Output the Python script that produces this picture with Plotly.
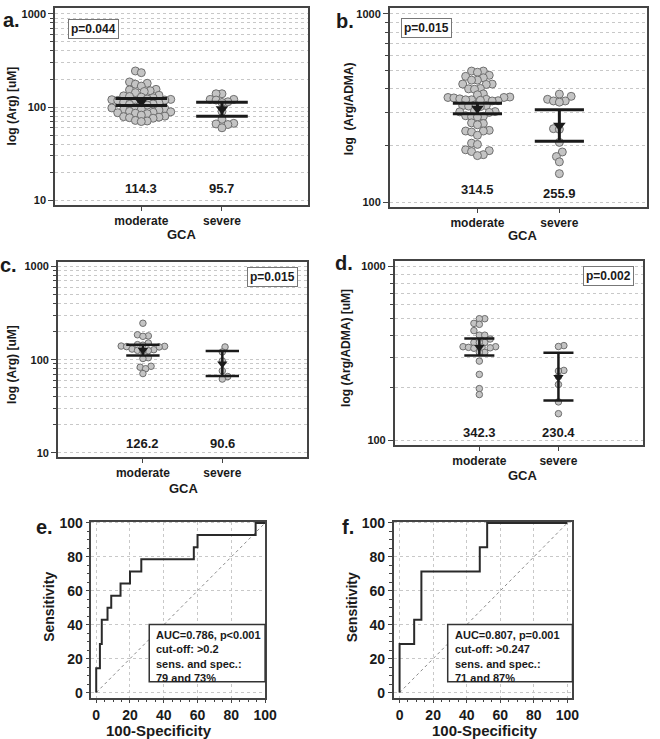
import numpy as np
import plotly.graph_objects as go

# ── Canvas / style ──
W, H = 660, 739
FONT = 'Liberation Sans, Arial, sans-serif'
INK = '#1a1a1a'
FRAME = '#444444'
DOT_FILL = '#c4c4c4'
DOT_EDGE = '#6e6e6e'
GRID = '#c8c8c8'

GROUPS = ['moderate', 'severe']

# ── Panel a: Arg (uM) ──
A_MODERATE = [244, 234, 186, 180, 176, 168, 155, 153, 150, 147, 143, 134, 132, 130, 128, 126,
              122, 121, 120, 119, 118, 116, 113, 111, 110, 108, 107, 105, 100, 98, 96, 95, 94,
              93, 90, 89, 88, 87, 86, 85, 82, 80, 79, 78, 77, 76, 72, 71, 70]
A_SEVERE = [139, 139, 121, 121, 119, 114, 112, 90, 74, 67, 66, 65, 60]
A_MEAN = [114.3, 95.7]
A_CI = [(104, 123.7), (80, 113)]

# ── Panel b: Arg/ADMA ──
B_MODERATE = [497, 497, 490, 472, 466, 458, 445, 445, 424, 424, 422, 402, 400, 398, 376, 372,
              362, 360, 360, 358, 354, 352, 350, 350, 348, 346, 345, 328, 326, 326, 324, 322,
              305, 303, 302, 300, 288, 286, 285, 284, 264, 262, 258, 241, 239, 239, 236, 227,
              206, 203, 190, 188, 186, 179, 177]
B_SEVERE = [375, 365, 352, 345, 345, 340, 246, 244, 208, 185, 175, 164, 142]
B_MEAN = [314.5, 255.9]
B_CI = [(295, 336), (211, 310)]

# ── Panel c: Arg (uM) ──
C_MODERATE = [246, 185, 180, 178, 151, 145, 143, 140, 139, 138, 137, 130, 128, 126, 125, 124,
              105, 103, 85, 83, 80, 71]
C_SEVERE = [137, 121, 97, 76, 66, 62]
C_MEAN = [126.2, 90.6]
C_CI = [(111, 145), (67, 124)]

# ── Panel d: Arg/ADMA (uM) ──
D_MODERATE = [500, 500, 470, 464, 427, 402, 402, 382, 365, 365, 365, 345, 345, 342, 342, 340,
              338, 320, 320, 285, 239, 198, 183]
D_SEVERE = [350, 346, 252, 250, 232, 209, 166, 142]
D_MEAN = [342.3, 230.4]
D_CI = [(307, 385), (169, 318)]

# ── ROC curves ──
ROC_E_X = [0, 0, 2.2, 3.3, 6.7, 8.9, 14.4, 20, 26.7, 57.8, 60, 94.4, 100]
ROC_E_Y = [0, 14.3, 28.6, 42.9, 50, 57.1, 64.3, 71.4, 78.6, 85.7, 92.9, 100, 100]
ROC_F_X = [0, 0, 8.7, 13.0, 47.8, 52.2, 100]
ROC_F_Y = [0, 28.6, 42.9, 71.4, 85.7, 100, 100]
ROC_TICKS = [0, 20, 40, 60, 80, 100]

DECADES = [10, 100, 1000]
MINOR_2DEC = [v * m for m in (10, 100) for v in range(2, 10)]
MINOR_1DEC = [v * 100 for v in range(2, 10)]


def dom_x(l, r):
    return [l / W, r / W]


def dom_y(t, b):
    return [1 - b / H, 1 - t / H]


def font(size, color=INK):
    return dict(family=FONT, size=size, color=color, weight='bold')


def note(x, y, text, size, **kw):
    """Annotation placed by pixel position (centre) on the page."""
    d = dict(x=x / W, y=1 - y / H, xref='paper', yref='paper', text=text,
             showarrow=False, font=font(size), xanchor='center', yanchor='middle')
    d.update(kw)
    return d


def swarm(values, ppd, ppu, diam, packing):
    """Beeswarm x offsets (in category units) so dots barely overlap."""
    y = np.log10(values) * ppd
    gap = diam * packing
    placed = []
    off = np.zeros(len(values))
    for n, i in enumerate(np.argsort(y)):
        k = 0
        found = None
        while found is None:
            step = k * gap * 0.5
            cands = [0.0] if k == 0 else ([step, -step] if n % 2 else [-step, step])
            for cx in cands:
                if all((cx - px) ** 2 + (y[i] - py) ** 2 >= gap ** 2 for px, py in placed):
                    found = cx
                    break
            k += 1
        placed.append((found, y[i]))
        off[i] = found / ppu
    return off


XRANGE = [-1.07, 2.07]

PANELS = [
    dict(n=1, frame=(56, 314, 1, 201), yr=[0.947, 3.063], data=(A_MODERATE, A_SEVERE),
         mean=A_MEAN, ci=A_CI, cap=0.32, dot=8, pack=0.75, tri=11, lw=3, minor=MINOR_2DEC,
         major=DECADES, vy=[184, 184], label='a.', lab_xy=(12, 13), ytitle='log (Arg) [uM]',
         yt_xy=(12, 100), ptext='p=0.044', p_xy=(95, 22), gca_xy=(185, 231)),
    dict(n=2, frame=(397, 659, 1, 203), yr=[1.974, 3.031], data=(B_MODERATE, B_SEVERE),
         mean=B_MEAN, ci=B_CI, cap=0.30, dot=8, pack=0.75, tri=11, lw=3, minor=MINOR_1DEC,
         major=[100, 1000], vy=[185, 189], label='b.', lab_xy=(351, 14), ytitle='log  (Arg/ADMA)',
         yt_xy=(355, 103), ptext='p=0.015', p_xy=(434, 21), gca_xy=(533, 232)),
    dict(n=3, frame=(59, 313, 258, 456), yr=[0.958, 3.053], data=(C_MODERATE, C_SEVERE),
         mean=C_MEAN, ci=C_CI, cap=0.21, dot=6.5, pack=0.85, tri=9, lw=2.5, minor=MINOR_2DEC,
         major=DECADES, vy=[442, 442], label='c.', lab_xy=(9, 262), ytitle='log (Arg) [uM]',
         yt_xy=(12, 362), ptext='p=0.015', p_xy=(278, 274), gca_xy=(187, 488)),
    dict(n=4, frame=(402, 655, 257, 444), yr=[1.972, 3.034], data=(D_MODERATE, D_SEVERE),
         mean=D_MEAN, ci=D_CI, cap=0.19, dot=6.5, pack=0.85, tri=9, lw=2.5, minor=MINOR_1DEC,
         major=[100, 1000], vy=[431, 431], label='d.', lab_xy=(350, 260),
         ytitle='log (Arg/ADMA) [uM]', yt_xy=(353, 346), ptext='p=0.002', p_xy=(620, 273),
         gca_xy=(533, 475)),
]

fig = go.Figure()
annotations = []
shapes = []
layout = {}

for p in PANELS:
    n = p['n']
    xa, ya = ('x', 'y') if n == 1 else (f'x{n}', f'y{n}')
    l, r, t, b = p['frame']
    ppu = (r - l) / (XRANGE[1] - XRANGE[0])
    ppd = (b - t) / (p['yr'][1] - p['yr'][0])

    for g, vals in enumerate(p['data']):
        off = swarm(vals, ppd, ppu, p['dot'], p['pack'])
        fig.add_trace(go.Scatter(
            x=g + off, y=vals, mode='markers', xaxis=xa, yaxis=ya, showlegend=False,
            marker=dict(size=p['dot'], color=DOT_FILL, line=dict(width=1, color=DOT_EDGE)),
        ))
        lo, hi = p['ci'][g]
        c = p['cap']
        fig.add_trace(go.Scatter(
            x=[g - c, g + c, None, g - c, g + c, None, g, g],
            y=[lo, lo, None, hi, hi, None, lo, hi],
            mode='lines', xaxis=xa, yaxis=ya, showlegend=False,
            line=dict(color=INK, width=p['lw']),
        ))
        fig.add_trace(go.Scatter(
            x=[g], y=[p['mean'][g]], mode='markers', xaxis=xa, yaxis=ya, showlegend=False,
            marker=dict(symbol='triangle-down', size=p['tri'], color=INK),
        ))
        annotations.append(dict(
            x=g, xref=xa, y=1 - p['vy'][g] / H, yref='paper', text=f'{p["mean"][g]:.1f}',
            showarrow=False, font=font(13), xanchor='center', yanchor='middle',
        ))

    key = '' if n == 1 else str(n)
    layout['xaxis' + key] = dict(
        domain=dom_x(l, r), anchor=ya, range=XRANGE, tickvals=[0, 1], ticktext=GROUPS,
        ticks='outside', ticklen=4, tickcolor=FRAME, showgrid=False, zeroline=False,
        showline=True, mirror=True, linecolor=FRAME, linewidth=1.5, tickfont=font(12),
    )
    layout['yaxis' + key] = dict(
        type='log', domain=dom_y(t, b), anchor=xa, range=p['yr'],
        tickvals=p['major'], ticktext=[str(v) for v in p['major']],
        ticks='outside', ticklen=5, tickcolor=FRAME, tickwidth=1.2,
        showgrid=True, gridcolor=GRID, griddash='dot', gridwidth=1,
        minor=dict(tickvals=p['minor'], ticks='outside', ticklen=3, tickcolor=FRAME,
                   showgrid=True, gridcolor=GRID, griddash='dot', gridwidth=1),
        showline=True, mirror=True, linecolor=FRAME, linewidth=1.5, zeroline=False,
        tickfont=font(11),
    )

    annotations.append(note(*p['lab_xy'], p['label'], 20))
    annotations.append(note(*p['yt_xy'], p['ytitle'], 12, textangle=-90))
    annotations.append(note(*p['p_xy'], p['ptext'], 12, bgcolor='white',
                            bordercolor='#777777', borderwidth=1, borderpad=2))
    annotations.append(note(*p['gca_xy'], 'GCA', 13))

# ── ROC panels ──
ROC = [
    dict(n=5, frame=(93, 270, 522, 700), xr=[-2.9, 100], x=ROC_E_X, y=ROC_E_Y, label='e.',
         lab_xy=(45, 527), yt_x=50, xt_x=162, box=(152, 270, 626, 684),
         text='AUC=0.786, p<0.001<br>cut-off: >0.2<br>sens. and spec.:<br>79 and 73%'),
    dict(n=6, frame=(401, 583, 522, 700), xr=[-3.5, 103], x=ROC_F_X, y=ROC_F_Y, label='f.',
         lab_xy=(354, 527), yt_x=358, xt_x=494, box=(456, 583, 626, 684),
         text='AUC=0.807, p=0.001<br>cut-off: >0.247<br>sens. and spec.:<br>71 and 87%'),
]

for p in ROC:
    n = p['n']
    xa, ya = f'x{n}', f'y{n}'
    l, r, t, b = p['frame']
    fig.add_trace(go.Scatter(
        x=[0, 100], y=[0, 100], mode='lines', xaxis=xa, yaxis=ya, showlegend=False,
        line=dict(color='#8a8a8a', width=1, dash='dot'),
    ))
    fig.add_trace(go.Scatter(
        x=p['x'], y=p['y'], mode='lines', xaxis=xa, yaxis=ya, showlegend=False,
        line=dict(color='#2a2a2a', width=2, shape='hv'),
    ))
    common = dict(ticks='outside', ticklen=4, tickcolor=FRAME, tickvals=ROC_TICKS,
                  minor=dict(dtick=5, ticks='outside', ticklen=3, tickcolor=FRAME),
                  showgrid=True, gridcolor=GRID, griddash='dot', gridwidth=1, zeroline=False,
                  showline=True, mirror=True, linecolor=FRAME, linewidth=1.5)
    layout[f'xaxis{n}'] = dict(domain=dom_x(l, r), anchor=ya, range=p['xr'], tickfont=font(14), **common)
    layout[f'yaxis{n}'] = dict(domain=dom_y(t, b), anchor=xa, range=[-2.9, 100.6], tickfont=font(14), **common)

    bl, br, bt, bb = p['box']
    shapes.append(dict(type='rect', xref='paper', yref='paper', x0=bl / W, x1=br / W,
                       y0=1 - bb / H, y1=1 - bt / H, line=dict(color='#333333', width=1.5),
                       fillcolor='white', layer='above'))
    annotations.append(dict(x=(bl + 5) / W, y=1 - (bt + 2) / H, xref='paper', yref='paper',
                            xanchor='left', yanchor='top', align='left', text=p['text'],
                            showarrow=False, font=font(11)))
    annotations.append(note(*p['lab_xy'], p['label'], 20))
    annotations.append(note(p['yt_x'], 608, 'Sensitivity', 14, textangle=-90))
    annotations.append(note(p['xt_x'], 733, '100-Specificity', 15))

fig.update_layout(
    width=W, height=H,
    margin=dict(l=0, r=0, t=0, b=0),
    paper_bgcolor='white', plot_bgcolor='white',
    font=dict(family=FONT, color=INK),
    showlegend=False,
    annotations=annotations,
    shapes=shapes,
    **layout,
)

# the browser's default 8px body margin would push the figure off the window
fig.write_html('out.html', config={'displayModeBar': False},
               post_script="document.body.style.margin = '0';")
